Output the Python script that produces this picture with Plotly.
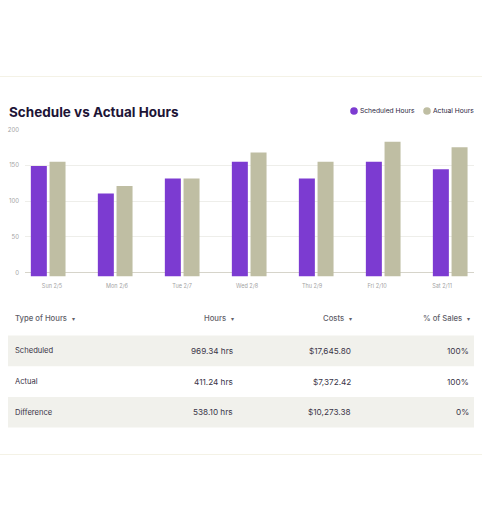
import plotly.graph_objects as go

# chart data
days = ['Sun 2/5', 'Mon 2/6', 'Tue 2/7', 'Wed 2/8', 'Thu 2/9', 'Fri 2/10', 'Sat 2/11']
scheduled = [149, 110.5, 131.5, 155, 131.5, 155, 144.5]
actual = [155, 121, 131.5, 168, 155, 183, 175]
y_ticks = [0, 50, 100, 150, 200]

# table data
table_header = ['Type of Hours', 'Hours', 'Costs', '% of Sales']
hour_types = ['Scheduled', 'Actual', 'Difference']
hours = ['969.34 hrs', '411.24 hrs', '538.10 hrs']
costs = ['$17,645.80', '$7,372.42', '$10,273.38']
pct_sales = ['100%', '100%', '0%']

W, H = 482, 530
PURPLE = '#7c3bd1'
KHAKI = '#bfbea3'
DARK = '#1d1436'
BAR_FLOOR = -5.6  # bars hang a little below the zero line


def px(x):
    return x / W


def py(y):
    return 1 - y / H


fig = go.Figure()

fig.add_trace(go.Bar(x=days, y=[v - BAR_FLOOR for v in scheduled], base=BAR_FLOOR,
                     name='Scheduled Hours', marker=dict(color=PURPLE, line_width=0)))
fig.add_trace(go.Bar(x=days, y=[v - BAR_FLOOR for v in actual], base=BAR_FLOOR,
                     name='Actual Hours', marker=dict(color=KHAKI, line_width=0)))
# empty trace so the date labels get their own axis (they sit tighter than the bars)
fig.add_trace(go.Scatter(x=days, y=[None] * len(days), xaxis='x2', showlegend=False))

shapes = []
annotations = []


def text(x, y, s, size, color, anchor='left', weight=400):
    annotations.append(dict(xref='paper', yref='paper', x=px(x), y=py(y), text=s,
                            showarrow=False, xanchor=anchor, yanchor='middle',
                            borderpad=0, borderwidth=0,
                            font=dict(family='Inter', size=size, color=color, weight=weight)))


# thin rules above and below the card
for rule_y in (76.5, 454.5):
    shapes.append(dict(type='line', xref='paper', yref='paper', x0=0, x1=1,
                       y0=py(rule_y), y1=py(rule_y), line=dict(color='#f4f2e6', width=1)))

text(8.5, 111.5, 'Schedule vs Actual Hours', 13.5, DARK, weight=700)

# legend, drawn by hand to get round dots
for cx, col, label in ((354, PURPLE, 'Scheduled Hours'), (427, KHAKI, 'Actual Hours')):
    shapes.append(dict(type='circle', xref='paper', yref='paper', x0=px(cx - 3.8), x1=px(cx + 3.8),
                       y0=py(111 + 3.8), y1=py(111 - 3.8), fillcolor=col, line_width=0))
    text(cx + 5.5, 111, label, 6.7, '#2a2440')

# table
arrow = ' <span style="font-size:6px">  ▾</span>'
col_right = [None, 233, 351, 469]
text(15, 318.5, table_header[0] + arrow, 7.7, '#605e68', weight=500)
for i in range(1, 4):
    text(col_right[i] + 1, 318.5, table_header[i] + arrow, 7.7, '#605e68', 'right', 500)

ROW_TOP, ROW_H = 335.5, 30.7
for r in range(len(hour_types)):
    top = ROW_TOP + r * ROW_H
    mid = top + ROW_H / 2
    if r % 2 == 0:
        shapes.append(dict(type='rect', xref='paper', yref='paper', x0=px(8), x1=px(474),
                           y0=py(top + ROW_H), y1=py(top), fillcolor='#f1f1ec', line_width=0,
                           layer='below'))
    text(15, mid, hour_types[r], 7.6, '#3a3548')
    text(col_right[1], mid, hours[r], 8.2, '#3a3548', 'right')
    text(col_right[2], mid, costs[r], 8.2, '#3a3548', 'right')
    text(col_right[3], mid, pct_sales[r], 8.2, '#3a3548', 'right')

x_domain = [25 / W, 474 / W]

fig.update_layout(
    width=W,
    height=H,
    margin=dict(l=0, r=0, t=0, b=0, autoexpand=False),
    paper_bgcolor='white',
    plot_bgcolor='white',
    showlegend=False,
    barmode='group',
    bargap=0.442,
    bargroupgap=0.144,
    shapes=shapes,
    annotations=annotations,
    xaxis=dict(domain=x_domain, type='category', range=[-0.346, 6.355], showticklabels=False,
               showgrid=False, zeroline=False, ticks=''),
    xaxis2=dict(domain=x_domain, type='category', overlaying='x', anchor='y', side='bottom',
                range=[-0.415, 6.49], showgrid=False, zeroline=False, ticks='',
                tickfont=dict(family='Inter', size=5.5, color='#a3a3a3'), ticklabelstandoff=5),
    yaxis=dict(domain=[py(276.5), py(129.5)], range=[BAR_FLOOR, 200], tickvals=y_ticks,
               gridcolor='#eeeeea', gridwidth=1, zeroline=True, zerolinecolor='#d6d4ca',
               zerolinewidth=1, ticks='', ticklabelstandoff=5,
               tickfont=dict(family='Inter', size=6, color='#a3a3a3')),
)

fig.write_html('out.html', config=dict(displayModeBar=False),
               post_script="document.body.style.margin='0';")
